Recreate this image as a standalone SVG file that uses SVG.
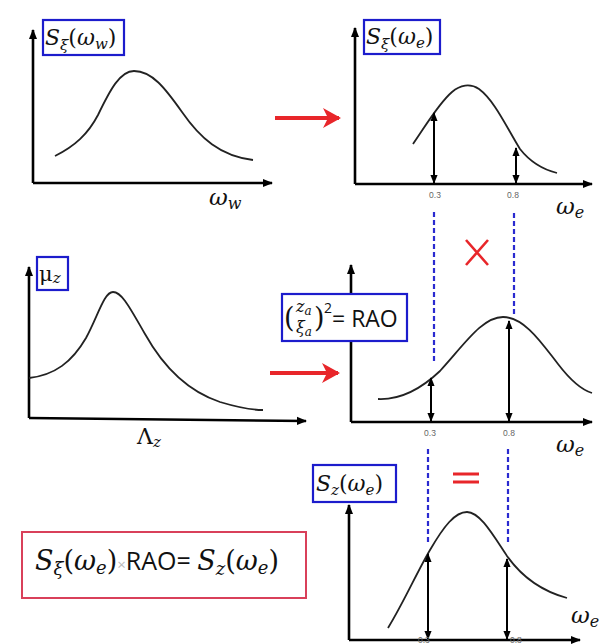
<svg xmlns="http://www.w3.org/2000/svg" width="605" height="644" viewBox="0 0 605 644">
<defs>
<marker id="ah" viewBox="0 0 10 10" refX="9" refY="5" markerWidth="4.5" markerHeight="4.5" orient="auto-start-reverse" markerUnits="strokeWidth">
<path d="M0,1 L10,5 L0,9 Z" fill="#000"/>
</marker>
<marker id="ax" viewBox="0 0 10 10" refX="9" refY="5" markerWidth="4" markerHeight="4" orient="auto" markerUnits="strokeWidth">
<path d="M0,1 L10,5 L0,9 Z" fill="#000"/>
</marker>
<marker id="rh" viewBox="0 0 10 10" refX="8" refY="5" markerWidth="5" markerHeight="5" orient="auto" markerUnits="strokeWidth">
<path d="M0,0 L9,5 L0,10 L2.5,5 Z" fill="#e8262a"/>
</marker>
</defs>
<style>
.axis{stroke:#000;stroke-width:2.6;fill:none}
.curve{stroke:#222;stroke-width:1.8;fill:none}
.darr{stroke:#000;stroke-width:2;fill:none}
.dash{stroke:#2a2ad0;stroke-width:2.2;stroke-dasharray:5 3;fill:none}
.red{stroke:#e8262a;stroke-width:4;fill:none}
.lbox{fill:#fff;stroke:#1c1ccc;stroke-width:2.2}
.m{font-family:"DejaVu Serif","Liberation Serif",serif;font-style:italic;fill:#111}
.r{font-family:"DejaVu Serif","Liberation Serif",serif;fill:#111}
.s{font-family:"Open Sans","Liberation Sans",sans-serif;fill:#111}
.tick{font-family:"Liberation Sans",sans-serif;font-size:8.5px;fill:#666}
</style>
<rect width="605" height="644" fill="#fff"/>

<g id="connectors">
<path class="red" marker-end="url(#rh)" d="M275,118 L339,118"/>
<path class="red" marker-end="url(#rh)" d="M270,373 L338,373"/>
<path class="dash" d="M434,212 V363"/>
<path class="dash" d="M514,213 V315"/>
<path class="dash" d="M428,449 V543"/>
<path class="dash" d="M508,449 V543"/>
</g>

<g id="panel-sw">
<path class="axis" marker-end="url(#ax)" d="M33,183 V30"/>
<path class="axis" marker-end="url(#ax)" d="M33,183 H272"/>
<path class="curve" d="M55,156 C75,146 88,134 98,115 C110,90 120,71 134,71 C152,71 165,88 182,112 C200,138 220,156 253,160"/>
<text class="m" x="209" y="205" font-size="23">ω<tspan font-size="16" dy="4">w</tspan></text>
<rect class="lbox" x="43" y="20" width="81" height="35"/>
<text x="45" y="45" font-size="22"><tspan class="m">S</tspan><tspan class="m" font-size="15" dy="5">ξ</tspan><tspan class="r" dy="-5">(</tspan><tspan class="m">ω</tspan><tspan class="m" font-size="15" dy="4">w</tspan><tspan class="r" dy="-4">)</tspan></text>
</g>

<g id="panel-se">
<path class="axis" marker-end="url(#ax)" d="M355,184 V28"/>
<path class="axis" marker-end="url(#ax)" d="M355,184 H592"/>
<path class="curve" d="M413,144 C425,127 438,104 452,92 C460,85 470,83 479,89 C494,100 506,126 520,149 C531,163 545,170 557,173"/>
<path class="darr" marker-start="url(#ah)" marker-end="url(#ah)" d="M434,183 V113"/>
<path class="darr" marker-start="url(#ah)" marker-end="url(#ah)" d="M516,183 V148"/>
<text class="tick" x="435" y="198" text-anchor="middle">0.3</text>
<text class="tick" x="513" y="198" text-anchor="middle">0.8</text>
<text class="m" x="556" y="214" font-size="23">ω<tspan font-size="16" dy="4">e</tspan></text>
<rect class="lbox" x="364" y="20" width="76" height="34"/>
<text x="366" y="44" font-size="22"><tspan class="m">S</tspan><tspan class="m" font-size="15" dy="5">ξ</tspan><tspan class="r" dy="-5">(</tspan><tspan class="m">ω</tspan><tspan class="m" font-size="15" dy="4">e</tspan><tspan class="r" dy="-4">)</tspan></text>
</g>

<g id="times-sign">
<path d="M466,240 L488,265 M488,240 L466,265" stroke="#e8262a" stroke-width="2.6" fill="none"/>
</g>

<g id="panel-mu">
<path class="axis" marker-end="url(#ax)" d="M29,418 V267"/>
<path class="axis" marker-end="url(#ax)" d="M29,418 L306,421"/>
<path class="curve" d="M29,378 C55,375 72,362 86,338 C98,316 104,292 113,292 C122,292 130,308 145,334 C164,368 190,392 220,402 C240,408 253,410 263,410"/>
<text class="r" x="137" y="444" font-size="22">Λ<tspan class="m" font-size="15" dy="3">z</tspan></text>
<rect class="lbox" x="37" y="257" width="31" height="33"/>
<text x="39" y="281" font-size="21"><tspan class="r">μ</tspan><tspan class="m" font-size="15" dy="2">z</tspan></text>
</g>

<g id="panel-rao">
<path class="axis" marker-end="url(#ax)" d="M351,422 V265"/>
<path class="axis" marker-end="url(#ax)" d="M351,422 H592"/>
<path class="curve" d="M378,399 C400,400 420,390 440,371 C464,345 482,317 503,317 C525,317 543,345 558,364 C571,381 582,390 592,393"/>
<path class="darr" marker-start="url(#ah)" marker-end="url(#ah)" d="M431,421 V378"/>
<path class="darr" marker-start="url(#ah)" marker-end="url(#ah)" d="M509,421 V321"/>
<text class="tick" x="430" y="436" text-anchor="middle">0.3</text>
<text class="tick" x="509" y="436" text-anchor="middle">0.8</text>
<text class="m" x="556" y="452" font-size="23">ω<tspan font-size="16" dy="4">e</tspan></text>
<rect class="lbox" x="282" y="294" width="125" height="47"/>
<text class="r" x="284" y="327" font-size="27">(</text>
<text class="m" x="296" y="312" font-size="16">z<tspan font-size="12" dy="3">a</tspan></text>
<text class="m" x="296" y="333" font-size="16">ξ<tspan font-size="12" dy="3">a</tspan></text>
<text class="r" x="314" y="327" font-size="27">)</text>
<text class="s" x="324" y="313" font-size="14">2</text>
<text class="s" x="332" y="327" font-size="23">= RAO</text>
</g>

<g id="equals-sign">
<path d="M453,474 H479 M453,482 H479" stroke="#e8262a" stroke-width="3" fill="none"/>
</g>

<g id="formula">
<rect x="22" y="532" width="284" height="66" fill="#fff" stroke="#d9405a" stroke-width="2"/>
<text x="35" y="570" font-size="27"><tspan class="m">S</tspan><tspan class="m" font-size="18" dy="5">ξ</tspan><tspan class="r" dy="-5">(</tspan><tspan class="m">ω</tspan><tspan class="m" font-size="18" dy="4">e</tspan><tspan class="r" dy="-4">)</tspan><tspan class="s" font-size="15" style="fill:#bbb">×</tspan><tspan class="s" font-size="25">RAO= </tspan><tspan class="m">S</tspan><tspan class="m" font-size="18" dy="5">z</tspan><tspan class="r" dy="-5">(</tspan><tspan class="m">ω</tspan><tspan class="m" font-size="18" dy="4">e</tspan><tspan class="r" dy="-4">)</tspan></text>
</g>

<g id="panel-sz">
<path class="axis" marker-end="url(#ax)" d="M349,640 V505"/>
<path class="axis" marker-end="url(#ax)" d="M349,640 H580"/>
<path class="curve" d="M388,628 C404,602 417,572 430,550 C444,526 455,512 467,512 C480,512 493,535 507,556 C524,580 545,592 567,598"/>
<path class="darr" marker-start="url(#ah)" marker-end="url(#ah)" d="M428,639 V554"/>
<path class="darr" marker-start="url(#ah)" marker-end="url(#ah)" d="M507,639 V559"/>
<text class="tick" x="418" y="643" font-size="5">0.3</text>
<text class="tick" x="510" y="643" font-size="5">0.8</text>
<text class="m" x="571" y="623" font-size="23">ω<tspan font-size="16" dy="4">e</tspan></text>
<rect class="lbox" x="313" y="465" width="83" height="37"/>
<text x="316" y="491" font-size="22"><tspan class="m">S</tspan><tspan class="m" font-size="15" dy="4">z</tspan><tspan class="r" dy="-4">(</tspan><tspan class="m">ω</tspan><tspan class="m" font-size="15" dy="4">e</tspan><tspan class="r" dy="-4">)</tspan></text>
</g>
</svg>
